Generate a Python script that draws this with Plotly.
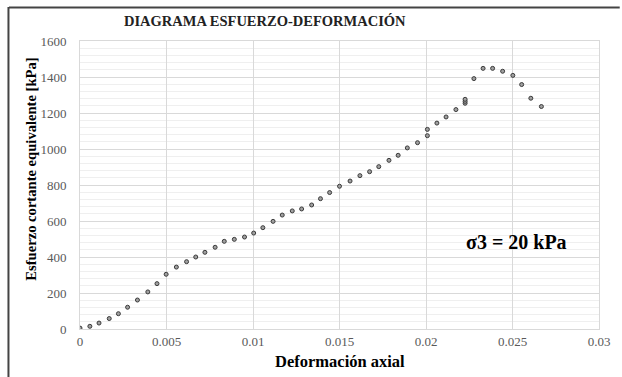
import plotly.graph_objects as go

# Axial strain (-) and equivalent shear stress (kPa) from the triaxial test
deformacion = [
    0.0000, 0.00057, 0.00110, 0.00169, 0.00222, 0.00275, 0.00332, 0.00392,
    0.00445, 0.00498, 0.00557, 0.00616, 0.00669, 0.00722, 0.00781, 0.00834,
    0.00892, 0.00951, 0.01004, 0.01057, 0.01116, 0.01169, 0.01227, 0.01281,
    0.01339, 0.01390, 0.01443, 0.01500, 0.01561, 0.01618, 0.01674, 0.01727,
    0.01786, 0.01839, 0.01892, 0.01951, 0.02008, 0.02008, 0.02063, 0.02116,
    0.02173, 0.02226, 0.02226, 0.02226, 0.02277, 0.02330, 0.02385, 0.02443,
    0.02502, 0.02553, 0.02606, 0.02667,
]
esfuerzo = [
    5, 15, 33, 58, 85, 121, 161, 206,
    252, 304, 344, 374, 400, 426, 454, 487,
    498, 511, 533, 563, 598, 633, 656, 667,
    689, 724, 758, 793, 822, 852, 874, 902,
    937, 965, 1006, 1035, 1074, 1109, 1144, 1178,
    1219, 1254, 1265, 1276, 1391, 1448, 1448, 1432,
    1409, 1358, 1282, 1236,
]

x_ticks = [0, 0.005, 0.01, 0.015, 0.02, 0.025, 0.03]
x_tick_text = ["0", "0.005", "0.01", "0.015", "0.02", "0.025", "0.03"]
y_ticks = [0, 200, 400, 600, 800, 1000, 1200, 1400, 1600]

titulo = "DIAGRAMA ESFUERZO-DEFORMACIÓN"
etiqueta = "σ3 = 20 kPa"

W, H = 622, 377
ML, MR, MT, MB = 80, 16, 41, 48
pw, ph = W - ML - MR, H - MT - MB

SERIF = "Liberation Serif, Times New Roman, serif"

fig = go.Figure()
fig.add_trace(go.Scatter(
    x=deformacion, y=esfuerzo, mode="markers",
    marker=dict(symbol="circle", size=4, color="#a0a0a0",
                line=dict(color="#3a3a3a", width=1)),
    showlegend=False,
))

fig.update_layout(
    width=W, height=H,
    margin=dict(l=ML, r=MR, t=MT, b=MB),
    paper_bgcolor="white", plot_bgcolor="white",
    font=dict(family=SERIF, color="#595959", size=13),
    xaxis=dict(
        range=[0, 0.03], tickvals=x_ticks, ticktext=x_tick_text,
        showgrid=True, gridcolor="#d9d9d9", gridwidth=1,
        zeroline=False, showline=True, linecolor="#d9d9d9", mirror=True,
        ticks="", ticklabelstandoff=0,
        tickfont=dict(size=13, color="#595959"),
    ),
    yaxis=dict(
        range=[0, 1600], tickvals=y_ticks,
        showgrid=True, gridcolor="#d9d9d9", gridwidth=1,
        minor=dict(dtick=40, showgrid=True, gridcolor="#efefef", gridwidth=1),
        zeroline=False, showline=True, linecolor="#d9d9d9", mirror=True,
        ticks="", ticklabelstandoff=10,
        tickfont=dict(size=13, color="#595959"),
    ),
)

def px_x(p):
    return (p - ML) / pw

def px_y(p):
    return (H - MB - p) / ph

# Chart title
fig.add_annotation(
    text=f"<b>{titulo}</b>", x=px_x(268), y=px_y(21), xref="paper", yref="paper",
    showarrow=False, xanchor="center", yanchor="middle",
    font=dict(family=SERIF, size=14.5, color="#222222"),
)

# Axis titles
fig.add_annotation(
    text="<b>Deformación axial</b>", x=px_x(343), y=px_y(361),
    xref="paper", yref="paper", showarrow=False,
    xanchor="center", yanchor="middle",
    font=dict(family=SERIF, size=16.5, color="#000000"),
)
fig.add_annotation(
    text="<b>Esfuerzo cortante equivalente [kPa]</b>", x=px_x(30), y=px_y(169),
    xref="paper", yref="paper", showarrow=False, textangle=-90,
    xanchor="center", yanchor="middle",
    font=dict(family=SERIF, size=14.6, color="#000000"),
)

# Confining pressure label
fig.add_annotation(
    text=f"<b>{etiqueta}</b>", x=px_x(522), y=px_y(242), xref="paper", yref="paper",
    showarrow=False, xanchor="center", yanchor="middle",
    font=dict(family=SERIF, size=20, color="#000000"),
)

# Outer frame (top and left edges)
fig.add_shape(type="line", xref="paper", yref="paper",
              x0=px_x(8), x1=px_x(W + 5), y0=px_y(7.5), y1=px_y(7.5),
              line=dict(color="#444444", width=2))
fig.add_shape(type="line", xref="paper", yref="paper",
              x0=px_x(7.5), x1=px_x(7.5), y0=px_y(7), y1=px_y(H + 5),
              line=dict(color="#444444", width=2))

fig.write_html("out.html")
